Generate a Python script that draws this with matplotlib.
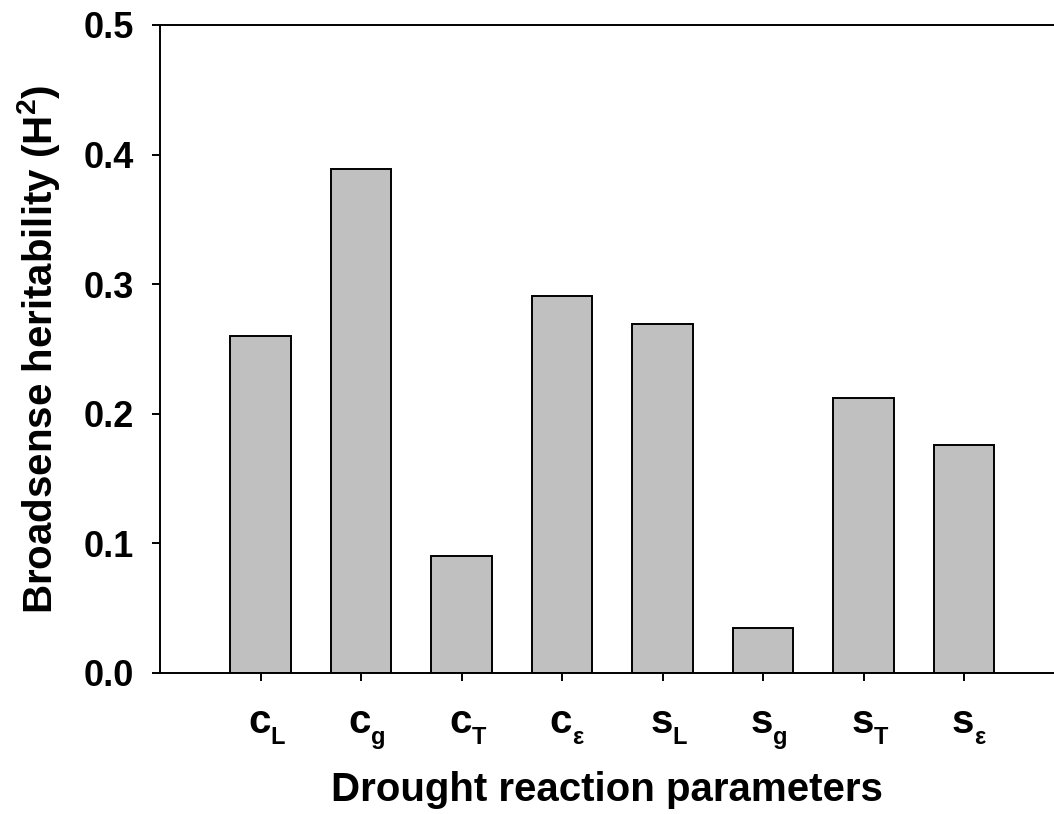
import matplotlib
matplotlib.use("Agg")
import matplotlib.pyplot as plt

plt.rcParams['font.family'] = ['Liberation Sans', 'DejaVu Sans']
plt.rcParams['font.weight'] = 'bold'
plt.rcParams['mathtext.fontset'] = 'custom'
plt.rcParams['mathtext.rm'] = 'Liberation Sans:bold'
plt.rcParams['mathtext.bf'] = 'Liberation Sans:bold'
plt.rcParams['mathtext.it'] = 'Liberation Sans:bold'

# category labels: main letter + subscript
cat_main = ['c', 'c', 'c', 'c', 's', 's', 's', 's']
cat_sub = ['L', 'g', 'T', 'ε', 'L', 'g', 'T', 'ε']
values = [0.260, 0.389, 0.090, 0.291, 0.269, 0.035, 0.212, 0.176]
yticks = [0.0, 0.1, 0.2, 0.3, 0.4, 0.5]
ytick_labels = ['0.0', '0.1', '0.2', '0.3', '0.4', '0.5']

W, H = 1054, 814
fig = plt.figure(figsize=(W/100, H/100), dpi=100)
ax = fig.add_axes([160/W, (H-673)/H, (W-160)/W, (673-25)/H])

positions = list(range(1, len(values)+1))
ax.bar(positions, values, width=0.6, color='#C0C0C0', edgecolor='black', linewidth=1.4, zorder=2)

ax.set_xlim(0, (W-160)/100.5)
ax.set_ylim(0, 0.5)
ax.set_yticks(yticks)
ax.set_yticklabels(ytick_labels, fontsize=26, fontweight='bold')
ax.set_xticks(positions)
ax.set_xticklabels([''] * len(positions))

for p, m, s in zip(positions, cat_main, cat_sub):
    ax.annotate(m, xy=(p, 0), xycoords=('data', 'axes fraction'),
                xytext=(-1, -60), textcoords='offset pixels',
                ha='center', va='baseline', fontsize=29, fontweight='bold')
    ax.annotate(s, xy=(p, 0), xycoords=('data', 'axes fraction'),
                xytext=(10, -71), textcoords='offset pixels',
                ha='left', va='baseline', fontsize=17, fontweight='bold')

ax.spines['right'].set_visible(False)
for sp in ['left', 'top', 'bottom']:
    ax.spines[sp].set_linewidth(1.4)
ax.tick_params(axis='y', direction='out', length=6, width=1.4, pad=13)
ax.tick_params(axis='x', direction='out', length=6, width=1.4)

ax.set_xlabel('Drought reaction parameters', fontsize=29, fontweight='bold')
ax.xaxis.set_label_coords(0.5, (673 - 771) / 648)
ax.set_ylabel(r'Broadsense heritability (H$^\mathbf{2}$)', fontsize=29, fontweight='bold')
ax.yaxis.set_label_coords((62 - 160) / 894, 0.5)

fig.savefig('out.png', dpi=100)
